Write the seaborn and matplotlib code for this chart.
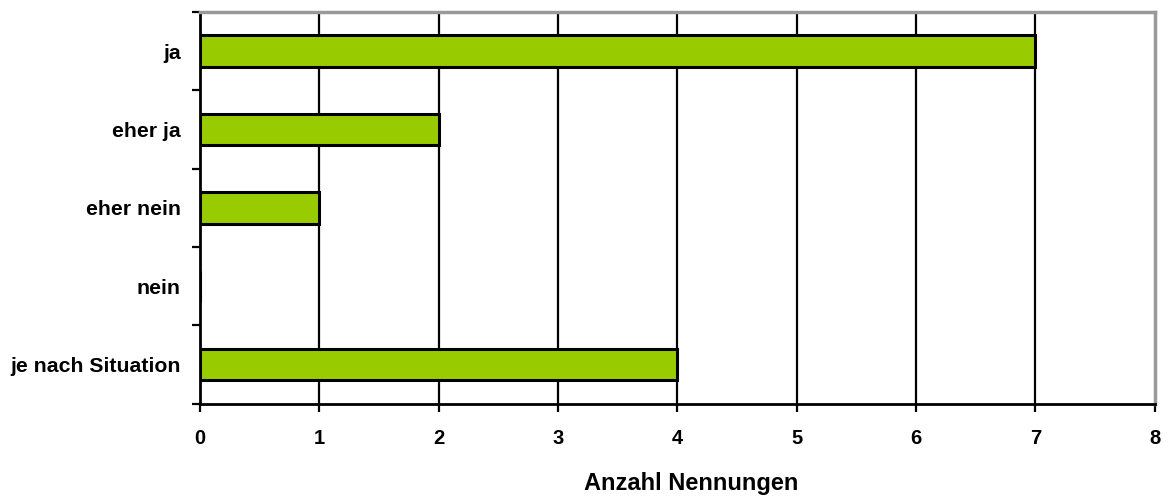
import numpy as np
import matplotlib.pyplot as plt
import seaborn as sns

# Antworten und Anzahl der Nennungen
categories = ["ja", "eher ja", "eher nein", "nein", "je nach Situation"]
counts = [7, 2, 1, 0, 4]
x_ticks = [0, 1, 2, 3, 4, 5, 6, 7, 8]

sns.set_style("white")
plt.rcParams['font.family'] = ['Liberation Sans', 'DejaVu Sans']
plt.rcParams['text.color'] = 'black'
plt.rcParams['xtick.color'] = 'black'
plt.rcParams['ytick.color'] = 'black'
plt.rcParams['axes.labelcolor'] = 'black'

fig = plt.figure(figsize=(11.7, 4.98), dpi=100)
ax = fig.add_axes([0.171, 0.189, 0.816, 0.787])

sns.barplot(x=counts, y=categories, order=categories, orient="h", width=0.4,
            color="#99cc00", edgecolor="black", linewidth=2.2, saturation=1, ax=ax)

# vertical grid lines
for v in x_ticks[1:-1]:
    ax.axvline(v, color="black", lw=1.6, zorder=0)

ax.set_xlim(0, 8)
ax.set_ylim(4.5, -0.5)
ax.set_xticks(x_ticks)
ax.set_xticklabels([str(v) for v in x_ticks], fontsize=14.5, fontweight="bold")
ax.tick_params(axis="x", direction="out", length=6, width=1.6, pad=12, bottom=True)

# category labels centred, tick marks at the band edges
ax.set_yticks(range(len(categories)))
ax.set_yticklabels(categories, fontsize=15.3, fontweight="bold")
ax.tick_params(axis="y", which="major", length=0, pad=14)
ax.set_yticks(np.arange(-0.5, len(categories)), minor=True)
ax.tick_params(axis="y", which="minor", direction="out", length=6, width=1.6, left=True)

ax.set_ylabel("")
ax.set_xlabel("Anzahl Nennungen", fontsize=17, fontweight="bold")
ax.xaxis.set_label_coords(0.514, -0.175)

for side in ["left", "bottom"]:
    ax.spines[side].set_color("black")
    ax.spines[side].set_linewidth(2)
for side in ["top", "right"]:
    ax.spines[side].set_visible(True)
    ax.spines[side].set_color("#999999")
    ax.spines[side].set_linewidth(2.5)

fig.savefig("out.png", dpi=100)
